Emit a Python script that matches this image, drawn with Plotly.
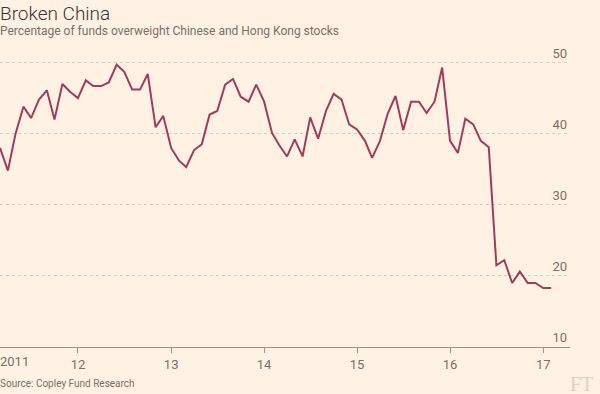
import plotly.graph_objects as go
import pandas as pd

# Monthly observations, March 2011 - February 2017
start_month = "2011-03-01"
n_months = 72
values = [
    38.0, 34.8, 40.0, 43.8, 42.2, 44.8, 46.1, 42.0, 47.0, 45.9,
    45.0, 47.5, 46.7, 46.7, 47.2, 49.7, 48.7, 46.2, 46.2, 48.4,
    40.9, 42.5, 38.0, 36.2, 35.3, 37.7, 38.5, 42.7, 43.2, 46.9,
    47.7, 45.2, 44.5, 46.9, 44.5, 40.1, 38.4, 36.8, 39.2, 36.8,
    42.3, 39.3, 43.2, 45.6, 44.8, 41.3, 40.6, 39.0, 36.6, 39.0,
    42.8, 45.3, 40.5, 44.5, 44.5, 42.9, 44.5, 49.3, 39.0, 37.3,
    42.1, 41.3, 39.0, 38.1, 21.5, 22.2, 19.0, 20.6, 19.0, 19.0,
    18.3, 18.3,
]
dates = pd.date_range(start_month, periods=n_months, freq="MS")

x_tick_vals = ["2012-01-01", "2013-01-01", "2014-01-01", "2015-01-01", "2016-01-01", "2017-01-01"]
x_tick_text = ["12", "13", "14", "15", "16", "17"]
first_year_label = "2011"
y_tick_vals = [10, 20, 30, 40, 50]

title = "Broken China"
subtitle = "Percentage of funds overweight Chinese and Hong Kong stocks"
source = "Source: Copley Fund Research"

BG = "#fff1e3"
LINE = "#9d3d5b"
GREY = "#77716b"
GRID = "#d8cdbf"
FONT = "Roboto"

fig = go.Figure()
fig.add_trace(go.Scatter(
    x=dates, y=values, mode="lines",
    line=dict(color=LINE, width=2),
    hoverinfo="skip", showlegend=False,
))

W, H = 600, 394
mt, mb, ml, mr = 37, 47, 0, 30
ph = H - mt - mb

def py(pix):
    return 1 + (mt - pix) / ph

fig.update_layout(
    width=W, height=H,
    margin=dict(l=ml, r=mr, t=mt, b=mb, autoexpand=False),
    paper_bgcolor=BG, plot_bgcolor=BG,
    font=dict(family=FONT, color=GREY, size=12),
    xaxis=dict(
        type="date", automargin=False,
        range=[start_month, "2017-04-16"],
        tickvals=x_tick_vals, ticktext=x_tick_text,
        ticks="outside", ticklen=5, tickcolor="#9a948c", tickwidth=1,
        showline=True, linecolor="#9a948c", linewidth=1,
        showgrid=False, zeroline=False,
        tickfont=dict(size=13, color=GREY),
    ),
    yaxis=dict(
        side="right", automargin=False,
        range=[10, 53.6],
        tickvals=y_tick_vals,
        ticklabelposition="inside top",
        showgrid=True, gridcolor=GRID, griddash="dot", gridwidth=1,
        zeroline=False, showline=False, ticks="",
        tickfont=dict(size=13, color=GREY),
    ),
)

annotations = [
    dict(text=title, x=0, y=py(0), xref="paper", yref="paper",
         xanchor="left", yanchor="top", showarrow=False, xshift=-2,
         font=dict(family=FONT, size=19, color="#3a3532", weight=300)),
    dict(text=subtitle, x=0, y=py(22), xref="paper", yref="paper",
         xanchor="left", yanchor="top", showarrow=False, xshift=-2,
         font=dict(family=FONT, size=12, color=GREY)),
    dict(text=first_year_label, x=0, y=py(352), xref="paper", yref="paper",
         xanchor="left", yanchor="top", showarrow=False, xshift=-2,
         font=dict(family=FONT, size=13, color=GREY)),
    dict(text=source, x=0, y=py(383), xref="paper", yref="paper",
         xanchor="left", yanchor="middle", showarrow=False, xshift=-2,
         font=dict(family=FONT, size=10, color=GREY)),
    dict(text="FT", x=1, y=py(384), xref="paper", yref="paper",
         xanchor="left", yanchor="middle", showarrow=False, xshift=-2,
         font=dict(family="Liberation Serif", size=20, color="#dcd0c2")),
]
fig.update_layout(annotations=annotations)

fig.write_html(
    "out.html",
    config={"displayModeBar": False},
    post_script="document.body.style.margin='0';document.body.style.padding='0';",
)
